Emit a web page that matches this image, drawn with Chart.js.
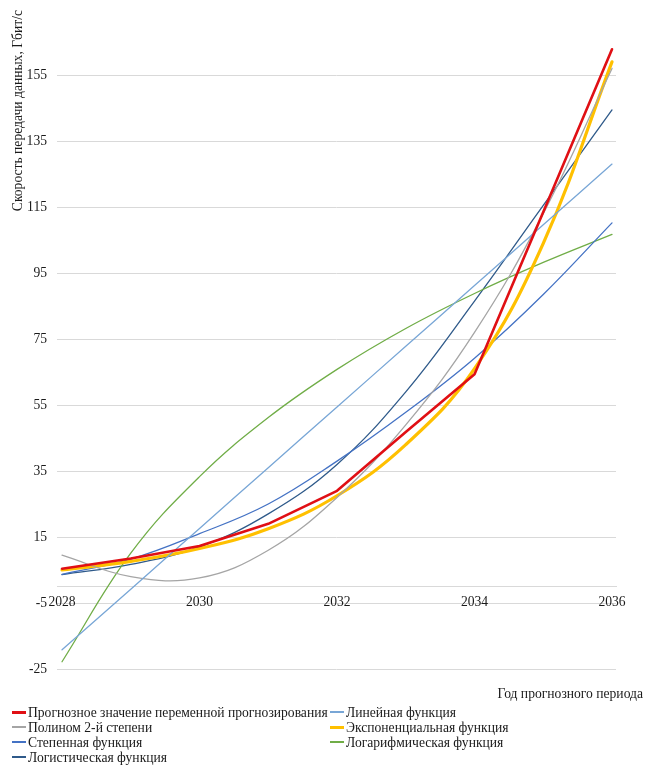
<!DOCTYPE html>
<html>
<head>
<meta charset="utf-8">
<script src="https://cdn.jsdelivr.net/npm/chart.js@4/dist/chart.umd.min.js"></script>
<style>
html,body{margin:0;padding:0;background:#fff;}
#wrap{position:relative;width:646px;height:766px;overflow:hidden;background:#fff;}
canvas{position:absolute;left:0;top:0;}
#xtitle{position:absolute;right:3px;top:686px;font-family:'Liberation Serif',serif;font-size:13.6px;line-height:15px;color:#1a1a1a;white-space:nowrap;}
.li{position:absolute;font-family:'Liberation Serif',serif;font-size:13.6px;line-height:15px;height:15px;color:#1a1a1a;white-space:nowrap;}
.li i{display:inline-block;width:14px;vertical-align:middle;margin-right:2px;position:relative;top:-1px;}
</style>
</head>
<body>
<div id="wrap">
<canvas id="c" width="646" height="766"></canvas>
<div id="xtitle"></div>
<div id="legend"></div>
</div>
<script>
const years = [2028, 2029, 2030, 2031, 2032, 2033, 2034, 2035, 2036];
const forecast      = [5.4, 8.5, 12.3, 19.0, 29.0, 46.8, 64.3, 113.5, 162.8];
const linearTrend   = [-19.2, -0.8, 17.6, 36.0, 54.4, 72.8, 91.2, 109.6, 128.0];
const polyTrend     = [9.5, 3.0, 2.6, 11.0, 27.0, 49.0, 77.0, 113.0, 157.0];
const expTrend      = [5.0, 7.6, 11.5, 17.5, 27.5, 43.0, 66.0, 104.0, 159.0];
const powerTrend    = [3.7, 8.3, 16.0, 25.0, 38.0, 52.8, 69.2, 88.5, 110.2];
const logTrend      = [-22.8, 10.1, 33.3, 51.2, 65.8, 78.2, 88.8, 98.2, 106.7];
const logisticTrend = [3.6, 6.7, 12.0, 22.0, 37.0, 59.0, 86.5, 115.5, 144.4];
const xTickYears = [2028, 2030, 2032, 2034, 2036];
const yTickValues = [-25, -5, 15, 35, 55, 75, 95, 115, 135, 155];
const seriesNames = [
  'Прогнозное значение переменной прогнозирования',
  'Линейная функция',
  'Полином 2-й степени',
  'Экспоненциальная функция',
  'Степенная функция',
  'Логарифмическая функция',
  'Логистическая функция'
];
const yTitle = 'Скорость передачи данных, Гбит/с';
const xTitle = 'Год прогнозного периода';

const seriesValues = [forecast, linearTrend, polyTrend, expTrend, powerTrend, logTrend, logisticTrend];
const seriesColors = ['#E00F14', '#78A6D6', '#A5A5A5', '#FFC000', '#4472C4', '#70AD47', '#2F5A8A'];
const seriesWidths = [2.6, 1.3, 1.3, 3.2, 1.3, 1.3, 1.3];
const seriesTension = [0, 0.4, 0.4, 0.4, 0.4, 0.4, 0.4];

const FONT = {family: "'Liberation Serif', serif", size: 13.6};
const TXT = '#1a1a1a';

const datasets = seriesValues.map((vals, i) => ({
  label: seriesNames[i],
  data: years.map((y, j) => ({x: y, y: vals[j]})),
  borderColor: seriesColors[i],
  backgroundColor: seriesColors[i],
  borderWidth: seriesWidths[i],
  tension: seriesTension[i],
  pointRadius: 0,
  fill: false,
  borderCapStyle: 'round',
  borderJoinStyle: 'round'
}));

const chart = new Chart(document.getElementById('c'), {
  type: 'line',
  data: {datasets},
  options: {
    responsive: false,
    animation: false,
    devicePixelRatio: 1,
    layout: {padding: {left: 0, right: 30, top: 10, bottom: 97}},
    plugins: {legend: {display: false}, tooltip: {enabled: false}},
    scales: {
      x: {
        type: 'linear',
        position: {y: 0},
        min: 2027.927,
        max: 2036.058,
        grid: {display: false, drawTicks: false},
        border: {display: true, color: '#D9D9D9', width: 1},
        afterBuildTicks: s => { s.ticks = xTickYears.map(v => ({value: v})); },
        afterFit: s => { s.paddingLeft = 0; s.paddingRight = 0; },
        ticks: {
          font: FONT, color: TXT, padding: 8, maxRotation: 0, autoSkip: false,
          callback: v => String(v)
        }
      },
      y: {
        type: 'linear',
        min: -25,
        max: 174.7,
        afterBuildTicks: s => { s.ticks = yTickValues.map(v => ({value: v})); },
        afterFit: s => { s.width = 57; s.paddingTop = 0; s.paddingBottom = 0; },
        grid: {color: '#D9D9D9', lineWidth: 1, drawTicks: false},
        border: {display: false},
        ticks: {font: FONT, color: TXT, padding: 10, callback: v => String(v)},
        title: {
          display: true, text: yTitle, align: 'end', font: FONT, color: TXT,
          padding: {top: 10, bottom: 0}
        }
      }
    }
  }
});

document.getElementById('xtitle').textContent = xTitle;
const legend = document.getElementById('legend');
const colLeft = [12, 330];
const rowTop = [704.5, 719.5, 734.5, 749.5];
chart.data.datasets.forEach((ds, i) => {
  const d = document.createElement('div');
  d.className = 'li';
  d.style.left = colLeft[i % 2] + 'px';
  d.style.top = rowTop[Math.floor(i / 2)] + 'px';
  const m = document.createElement('i');
  m.style.height = (ds.borderWidth > 2 ? 3 : 2) + 'px';
  m.style.background = ds.borderColor;
  d.appendChild(m);
  d.appendChild(document.createTextNode(ds.label));
  legend.appendChild(d);
});
</script>
</body>
</html>
